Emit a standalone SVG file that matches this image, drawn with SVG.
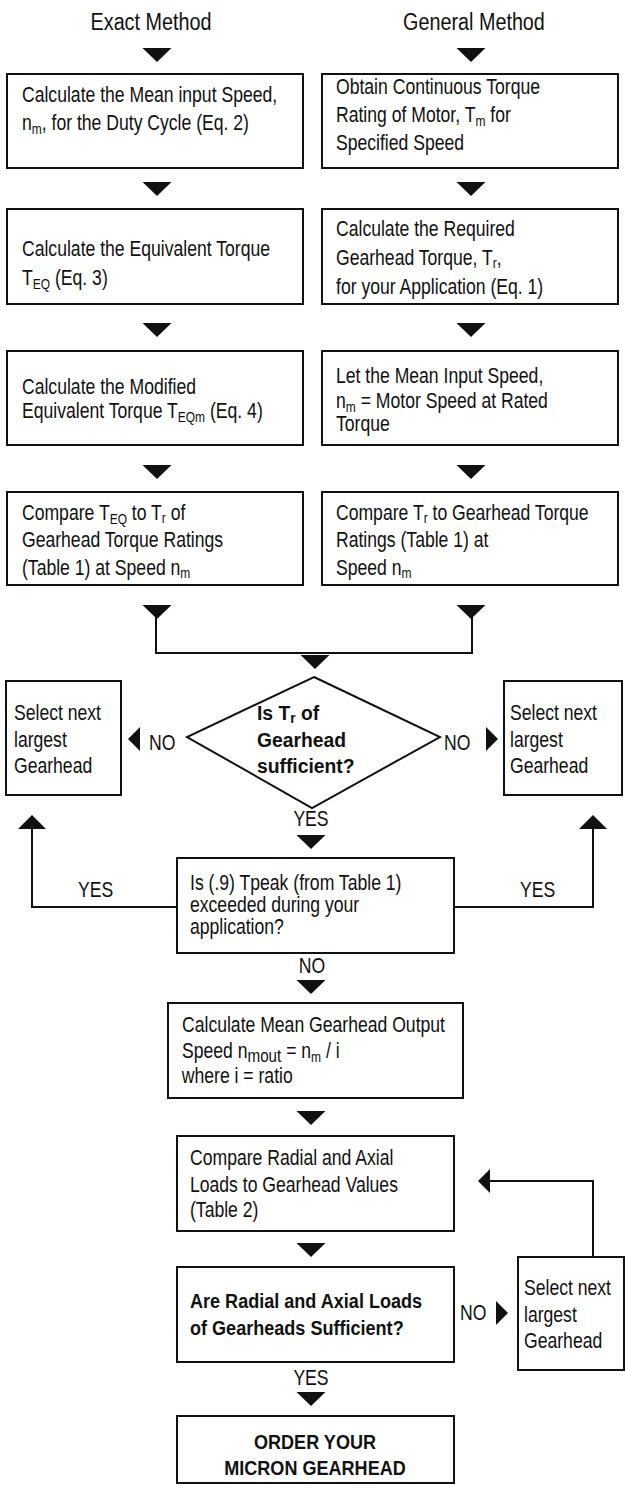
<svg xmlns="http://www.w3.org/2000/svg" xmlns:xlink="http://www.w3.org/1999/xlink" width="625" height="1485" viewBox="0 0 625 1485">
<style>
text{font-family:"Liberation Sans",Arial,sans-serif;font-size:22px;fill:#111;transform-box:fill-box;transform-origin:0 50%;transform:scaleX(0.8)}
.b{font-weight:bold;font-size:21px;transform:scaleX(0.86)}
.d{transform:scaleX(0.92)}
.c{text-anchor:middle;transform-origin:50% 50%}
.h{font-size:23px;transform:scaleX(0.86)}
.box{fill:#fff;stroke:#111;stroke-width:2}
.ln{fill:none;stroke:#111;stroke-width:2}
.ah{fill:#111}
.s{font-size:15px}
</style>
<defs>
<path id="td" d="M-14.5,0 L14.5,0 L0,14 Z"/>
<path id="tu" d="M-14,0 L14,0 L0,-14 Z"/>
<path id="tl" d="M0,0 L12,-12 L12,12 Z"/>
<path id="tr" d="M0,0 L-12,-12 L-12,12 Z"/>
</defs>
<rect width="625" height="1485" fill="#fff"/>

<g id="headers">
<text class="c h" x="151" y="30">Exact Method</text>
<text class="c h" x="474" y="30">General Method</text>
</g>

<g id="connectors">
<g class="ah">
<use xlink:href="#td" x="157" y="48"/>
<use xlink:href="#td" x="471" y="48"/>
<use xlink:href="#td" x="157" y="182"/>
<use xlink:href="#td" x="471" y="182"/>
<use xlink:href="#td" x="157" y="323"/>
<use xlink:href="#td" x="471" y="323"/>
<use xlink:href="#td" x="157" y="465"/>
<use xlink:href="#td" x="471" y="465"/>
<use xlink:href="#td" x="157" y="605"/>
<use xlink:href="#td" x="471" y="605"/>
<use xlink:href="#td" x="315" y="655"/>
<use xlink:href="#tl" x="128" y="739"/>
<use xlink:href="#tr" x="498" y="739"/>
<use xlink:href="#tu" x="32" y="829"/>
<use xlink:href="#tu" x="593" y="829"/>
<use xlink:href="#td" x="311" y="835"/>
<use xlink:href="#td" x="311" y="980"/>
<use xlink:href="#td" x="311" y="1111"/>
<use xlink:href="#tl" x="478" y="1181"/>
<use xlink:href="#td" x="311" y="1243"/>
<use xlink:href="#tr" x="508" y="1313"/>
<use xlink:href="#td" x="311" y="1392"/>
</g>
<polyline class="ln" points="156,617 156,653 472,653 472,617"/>
<polyline class="ln" points="177,907 32,907 32,828"/>
<polyline class="ln" points="454,907 593,907 593,828"/>
<polyline class="ln" points="490,1181 593,1181 593,1257"/>
<text x="149" y="750">NO</text>
<text x="444" y="750">NO</text>
<text class="c" x="311" y="826">YES</text>
<text x="78" y="897">YES</text>
<text x="520" y="897">YES</text>
<text class="c" x="312" y="973">NO</text>
<text x="460" y="1320">NO</text>
<text class="c" x="311" y="1385">YES</text>
</g>

<g id="exact1">
<rect class="box" x="7" y="74" width="296" height="94"/>
<text x="22" y="102">Calculate the Mean input Speed,</text>
<text x="22" y="130">n<tspan class="s" dy="4">m</tspan><tspan dy="-4">, for the Duty Cycle (Eq. 2)</tspan></text>
</g>
<g id="general1">
<rect class="box" x="322" y="74" width="296" height="94"/>
<text x="336" y="94">Obtain Continuous Torque</text>
<text x="336" y="122">Rating of Motor, T<tspan class="s" dy="4">m</tspan><tspan dy="-4"> for</tspan></text>
<text x="336" y="150">Specified Speed</text>
</g>

<g id="exact2">
<rect class="box" x="7" y="209" width="296" height="95"/>
<text x="22" y="256">Calculate the Equivalent Torque</text>
<text x="22" y="285">T<tspan class="s" dy="4">EQ</tspan><tspan dy="-4"> (Eq. 3)</tspan></text>
</g>
<g id="general2">
<rect class="box" x="322" y="209" width="296" height="95"/>
<text x="336" y="236">Calculate the Required</text>
<text x="336" y="265">Gearhead Torque, T<tspan class="s" dy="3">r</tspan><tspan dy="-3">,</tspan></text>
<text x="336" y="294">for your Application (Eq. 1)</text>
</g>

<g id="exact3">
<rect class="box" x="7" y="351" width="296" height="94"/>
<text x="22" y="394">Calculate the Modified</text>
<text x="22" y="418">Equivalent Torque T<tspan class="s" dy="4">EQm</tspan><tspan dy="-4"> (Eq. 4)</tspan></text>
</g>
<g id="general3">
<rect class="box" x="322" y="351" width="296" height="94"/>
<text x="336" y="383">Let the Mean Input Speed,</text>
<text x="336" y="408">n<tspan class="s" dy="4">m</tspan><tspan dy="-4"> = Motor Speed at Rated</tspan></text>
<text x="336" y="431">Torque</text>
</g>

<g id="exact4">
<rect class="box" x="7" y="492" width="296" height="93"/>
<text x="22" y="520">Compare T<tspan class="s" dy="4">EQ</tspan><tspan dy="-4"> to T</tspan><tspan class="s" dy="3">r</tspan><tspan dy="-3"> of</tspan></text>
<text x="22" y="547">Gearhead Torque Ratings</text>
<text x="22" y="575">(Table 1) at Speed n<tspan class="s" dy="3">m</tspan></text>
</g>
<g id="general4">
<rect class="box" x="322" y="492" width="296" height="93"/>
<text x="336" y="520">Compare T<tspan class="s" dy="3">r</tspan><tspan dy="-3"> to Gearhead Torque</tspan></text>
<text x="336" y="547">Ratings (Table 1) at</text>
<text x="336" y="575">Speed n<tspan class="s" dy="3">m</tspan></text>
</g>

<g id="decision1">
<polygon class="box" points="314,677 440,737 312,808 187,737"/>
<text class="b d" x="257" y="720">Is T<tspan class="s" dy="3">r</tspan><tspan dy="-3"> of</tspan></text>
<text class="b d" x="257" y="747">Gearhead</text>
<text class="b d" x="257" y="773">sufficient?</text>
</g>

<g id="selectLeft">
<rect class="box" x="6" y="681" width="115" height="114"/>
<text x="14" y="720">Select next</text>
<text x="14" y="747">largest</text>
<text x="14" y="773">Gearhead</text>
</g>
<g id="selectRight">
<rect class="box" x="504" y="681" width="118" height="114"/>
<text x="510" y="720">Select next</text>
<text x="510" y="747">largest</text>
<text x="510" y="773">Gearhead</text>
</g>

<g id="peak">
<rect class="box" x="177" y="858" width="277" height="95"/>
<text x="190" y="890">Is (.9) Tpeak (from Table 1)</text>
<text x="190" y="912">exceeded during your</text>
<text x="190" y="934">application?</text>
</g>

<g id="meanOutput">
<rect class="box" x="168" y="1003" width="295" height="95"/>
<text x="182" y="1032">Calculate Mean Gearhead Output</text>
<text x="182" y="1058">Speed n<tspan font-size="19" dy="4">mout</tspan><tspan dy="-4"> = n</tspan><tspan class="s" dy="4">m</tspan><tspan dy="-4"> / i</tspan></text>
<text x="182" y="1083">where i = ratio</text>
</g>

<g id="compareLoads">
<rect class="box" x="177" y="1136" width="277" height="95"/>
<text x="190" y="1165">Compare Radial and Axial</text>
<text x="190" y="1192">Loads to Gearhead Values</text>
<text x="190" y="1217">(Table 2)</text>
</g>

<g id="loadsDecision">
<rect class="box" x="177" y="1267" width="277" height="95"/>
<text class="b" x="190" y="1308">Are Radial and Axial Loads</text>
<text class="b" x="190" y="1335">of Gearheads Sufficient?</text>
</g>

<g id="selectBottom">
<rect class="box" x="518" y="1257" width="106" height="113"/>
<text x="524" y="1295">Select next</text>
<text x="524" y="1322">largest</text>
<text x="524" y="1348">Gearhead</text>
</g>

<g id="order">
<rect class="box" x="177" y="1416" width="277" height="67"/>
<text class="b c" x="315" y="1449">ORDER YOUR</text>
<text class="b c" x="315" y="1475">MICRON GEARHEAD</text>
</g>
</svg>
